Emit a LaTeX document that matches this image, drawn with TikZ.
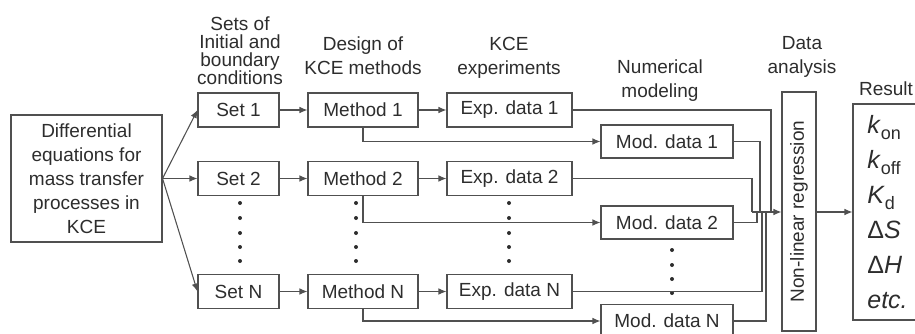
\documentclass[tikz,border=0pt]{standalone}
\usepackage{fontspec}
\setmainfont{Liberation Sans}
\usetikzlibrary{arrows.meta,calc}
\definecolor{inkgray}{RGB}{45,45,45}
\definecolor{linegray}{RGB}{80,80,80}
\newcommand{\lowsub}[1]{\raisebox{-0.45ex}{\fontsize{13.5}{13.5}\selectfont #1}}

\begin{document}
\begin{tikzpicture}[x=0.75pt,y=0.75pt,yscale=-1,xscale=1,
  every node/.style={text=inkgray,font=\fontsize{14.25}{18}\selectfont},
  databox/.style={draw=linegray,line width=0.8pt,inner sep=0pt},
  setbox/.style={databox,minimum width=60.75pt,minimum height=25.5pt},
  methbox/.style={databox,minimum width=82.5pt,minimum height=25.5pt},
  expbox/.style={databox,minimum width=93.75pt,minimum height=25.5pt},
  modbox/.style={databox,minimum width=99pt,minimum height=24.75pt},
  head/.style={align=center,anchor=base,inner sep=0pt},
  link/.style={draw=linegray,line width=0.8pt},
  arr/.style={link,-{Latex[length=6pt,width=5pt]}},
  vdot/.style={fill=inkgray}]
\clip (0,0) rectangle (915,333);

% column headers (placed at the baseline of their last line)
\node[head,font=\fontsize{14.25}{13.3}\selectfont] (hsets) at (240,84) {Sets of\\Initial and\\boundary\\conditions};
\node[head] (hmeth) at (363,74) {Design of\\KCE methods};
\node[head] (hexp) at (509,74) {KCE\\experiments};
\node[head] (hmod) at (660,97) {Numerical\\modeling};
\node[head] (hdata) at (802,73) {Data\\analysis};
\node[head] (hres) at (886,95) {Result};

% equations
\node[databox,align=center,minimum width=113.25pt,minimum height=95.25pt] (eqs) at (86.5,178.5) {Differential\\equations for\\mass transfer\\processes in\\KCE};

% rows
\node[setbox] (set1) at (238.5,110) {Set 1};
\node[setbox] (set2) at (238.5,178.5) {Set 2};
\node[setbox] (setN) at (238.5,291.5) {Set N};
\node[methbox] (meth1) at (363,110) {Method 1};
\node[methbox] (meth2) at (363,178.5) {Method 2};
\node[methbox] (methN) at (363,291.5) {Method N};
\node[expbox] (exp1) at (509.5,110) {Exp. data 1};
\node[expbox] (exp2) at (509.5,178.5) {Exp. data 2};
\node[expbox] (expN) at (509.5,291.5) {Exp. data N};
\node[modbox] (mod1) at (667,141.5) {Mod. data 1};
\node[modbox] (mod2) at (667,222.5) {Mod. data 2};
\node[modbox] (modN) at (667,321) {Mod. data N};

% analysis and result
\node[databox,rotate=90,minimum width=179.25pt,minimum height=25.5pt] (reg) at (799,211.5) {Non-linear regression};
\node[databox,align=left,minimum width=51.75pt,minimum height=162pt,font=\fontsize{18.75}{26.25}\selectfont] (res) at (887.5,212)
  {\textit{k}\lowsub{on}\\\textit{k}\lowsub{off}\\\textit{K}\lowsub{d}\\Δ\textit{S}\\Δ\textit{H}\\\textit{etc.}};

% dots
\foreach \y in {203,218,233,247,261} {
  \fill[vdot] (240,\y) circle (2);
  \fill[vdot] (356,\y) circle (2);
  \fill[vdot] (509,\y) circle (2);
}
\foreach \y in {250,265,279,293}
  \fill[vdot] (672,\y) circle (2);

% connectors
\draw[arr] (eqs.east) -- (set1.west);
\draw[arr] (eqs.east) -- (set2.west);
\draw[arr] (eqs.east) -- (setN.west);
\foreach \r in {1,2,N} {
  \draw[arr] (set\r) -- (meth\r);
  \draw[arr] (meth\r) -- (exp\r);
  \draw[arr] (meth\r.south) |- (mod\r.west);
}

\coordinate (join) at (752,212);
\foreach \n/\dx in {exp1/19,mod1/8,exp2/0,mod2/5,expN/10,modN/14}
  \draw[link] (\n.east) -| ($(join)+(\dx,0)$);
\draw[arr] (join) -- (join -| reg.north);
\draw[arr] (reg.south |- join) -- (res.west |- join);

\end{tikzpicture}
\end{document}
